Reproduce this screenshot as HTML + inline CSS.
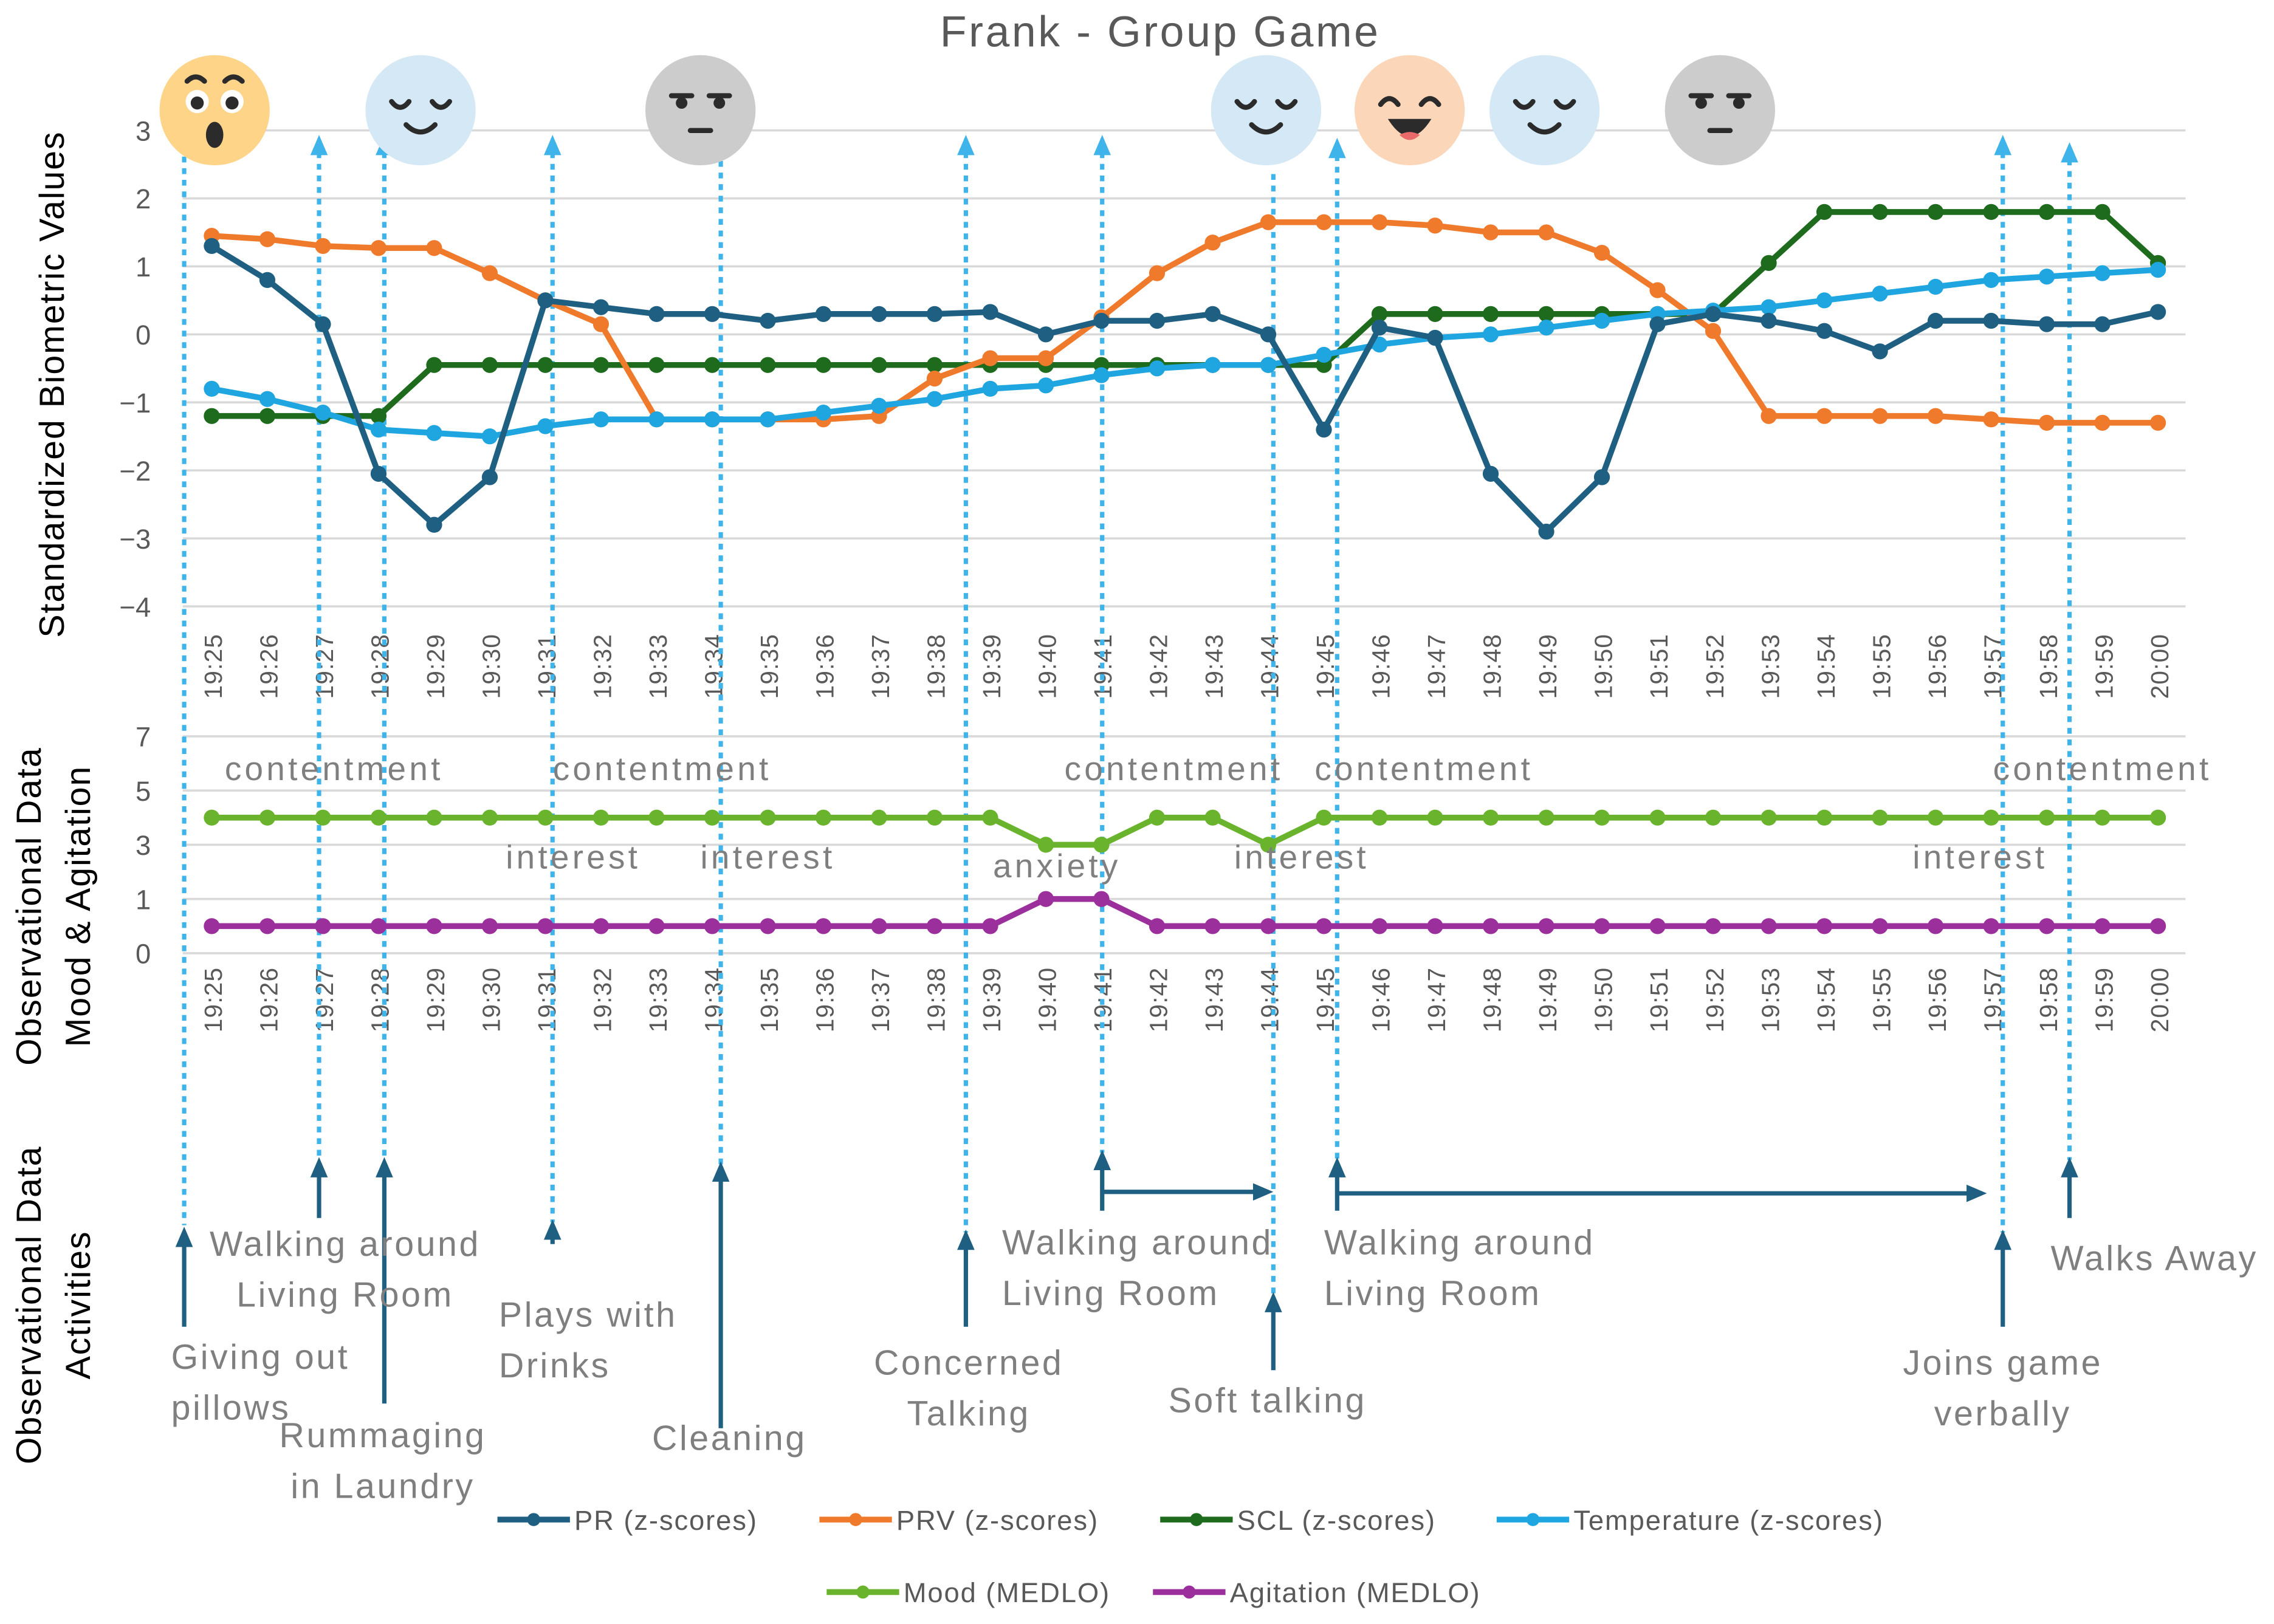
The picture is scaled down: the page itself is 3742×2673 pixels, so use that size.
<!DOCTYPE html>
<html><head><meta charset="utf-8"><style>
html,body{margin:0;padding:0;background:#fff;}
svg{display:block;font-family:"Liberation Sans",sans-serif;}
</style></head><body>
<svg id="chart" width="3742" height="2673" viewBox="0 0 1568 1120" xmlns="http://www.w3.org/2000/svg">
<rect width="1568" height="1120" fill="#fff"/>
<text x="800" y="32" font-size="30" fill="#595959" text-anchor="middle" letter-spacing="1.5">Frank - Group Game</text>
<text transform="translate(44,265) rotate(-90)" font-size="24" fill="#000" text-anchor="middle" letter-spacing="0.8">Standardized Biometric Values</text>
<g font-size="24" fill="#000" text-anchor="middle" letter-spacing="0.8">
<text transform="translate(28,625) rotate(-90)">Observational Data</text>
<text transform="translate(62,625) rotate(-90)">Mood &amp; Agitation</text>
</g>
<g font-size="24" fill="#000" text-anchor="middle" letter-spacing="0.8">
<text transform="translate(28,900) rotate(-90)">Observational Data</text>
<text transform="translate(62,900) rotate(-90)">Activities</text>
</g>
<g id="grid"></g>
<g id="guides"></g>
<g id="series"></g>
<g id="labels"></g>
<g id="emojis"></g>
<g id="legend"></g>
</svg>
<script>
const NS="http://www.w3.org/2000/svg";
const times=["19:25","19:26","19:27","19:28","19:29","19:30","19:31","19:32","19:33","19:34","19:35","19:36","19:37","19:38","19:39","19:40","19:41","19:42","19:43","19:44","19:45","19:46","19:47","19:48","19:49","19:50","19:51","19:52","19:53","19:54","19:55","19:56","19:57","19:58","19:59","20:00"];
const prValues=[1.3,0.8,0.15,-2.05,-2.8,-2.1,0.5,0.4,0.3,0.3,0.2,0.3,0.3,0.3,0.33,0.0,0.2,0.2,0.3,0.0,-1.4,0.1,-0.05,-2.05,-2.9,-2.1,0.15,0.3,0.2,0.05,-0.25,0.2,0.2,0.15,0.15,0.33];
const prvValues=[1.45,1.4,1.3,1.27,1.27,0.9,0.5,0.15,-1.25,-1.25,-1.25,-1.25,-1.2,-0.65,-0.35,-0.35,0.25,0.9,1.35,1.65,1.65,1.65,1.6,1.5,1.5,1.2,0.65,0.05,-1.2,-1.2,-1.2,-1.2,-1.25,-1.3,-1.3,-1.3];
const sclValues=[-1.2,-1.2,-1.2,-1.2,-0.45,-0.45,-0.45,-0.45,-0.45,-0.45,-0.45,-0.45,-0.45,-0.45,-0.45,-0.45,-0.45,-0.45,-0.45,-0.45,-0.45,0.3,0.3,0.3,0.3,0.3,0.3,0.3,1.05,1.8,1.8,1.8,1.8,1.8,1.8,1.05];
const tempValues=[-0.8,-0.95,-1.15,-1.4,-1.45,-1.5,-1.35,-1.25,-1.25,-1.25,-1.25,-1.15,-1.05,-0.95,-0.8,-0.75,-0.6,-0.5,-0.45,-0.45,-0.3,-0.15,-0.05,0.0,0.1,0.2,0.3,0.35,0.4,0.5,0.6,0.7,0.8,0.85,0.9,0.95];
const moodValues=[4,4,4,4,4,4,4,4,4,4,4,4,4,4,4,3,3,4,4,3,4,4,4,4,4,4,4,4,4,4,4,4,4,4,4,4];
const agitationValues=[0,0,0,0,0,0,0,0,0,0,0,0,0,0,0,1,1,0,0,0,0,0,0,0,0,0,0,0,0,0,0,0,0,0,0,0];
const topTicks=[3,2,1,0,-1,-2,-3,-4];
const midTicks=[7,5,3,1,-1];
const midTickLabels=["7","5","3","1","0"];
const moodLabels=[["contentment",2.2],["contentment",8.1],["interest",6.5],["interest",10],["anxiety",15.2],["contentment",17.3],["contentment",21.8],["interest",19.6],["interest",31.8],["contentment",34.0]];

const X0=146,XN=1488;
const xs=i=>X0+i*(XN-X0)/(times.length-1);
const yTop=v=>230.6-v*46.9;
const yMid=v=>620-(v-1)*18.7;
function mk(tag,attrs,parent,text){const e=document.createElementNS(NS,tag);for(const k in attrs)e.setAttribute(k,attrs[k]);if(text!==undefined)e.textContent=text;parent.appendChild(e);return e;}
const grid=document.getElementById('grid');
topTicks.forEach(t=>{
 const l=mk('line',{x1:126,x2:1507,y1:yTop(t),y2:yTop(t),stroke:'#d9d9d9','stroke-width':1.5},grid);
 
 
 const tx=mk('text',{x:104,y:yTop(t)+7,'font-size':19,fill:'#595959','text-anchor':'end'},grid,t<0?'\u2212'+(-t):String(t));
 
 
});
midTicks.forEach((t,i)=>{
 const l=mk('line',{x1:126,x2:1507,y1:yMid(t),y2:yMid(t),stroke:'#d9d9d9','stroke-width':1.5},grid);
 
 
 const tx=mk('text',{x:104,y:yMid(t)+7,'font-size':19,fill:'#595959','text-anchor':'end'},grid,midTickLabels[i]);
 
 
});
times.forEach((t,i)=>{
 [420,650].forEach(y0=>{
  const tx=mk('text',{transform:`translate(${xs(i)+7},${y0+62}) rotate(-90)`,'font-size':17,fill:'#595959','text-anchor':'start','letter-spacing':0.5},grid,t);
  
  
 });
});
// guides
const guides=document.getElementById('guides');
const LB='#3fb4ea',DB='#1f5f82';
const dotted=[[127,100,845,false],[220,95,800,true],[265,95,800,true],[381,95,843,true],[497,95,803,false],[666,95,850,true],[760,95,795,true],[878,120,893,false],[922,97,800,true],[1381,95,850,true],[1427,100,800,true]];
dotted.forEach(d=>{
 const l=mk('line',{x1:d[0],x2:d[0],y1:d[1]+(d[3]?10:0),y2:d[2],stroke:LB,'stroke-width':3,'stroke-dasharray':'4 4'},guides);
 
 
 if(d[3]){const p=mk('polygon',{points:`${d[0]-6},${d[1]+12} ${d[0]+6},${d[1]+12} ${d[0]},${d[1]-2}`,fill:LB},guides);
 
 }
});
const solid=[[127,915,848],[220,840,800],[265,968,800],[381,858,843],[497,985,803],[666,915,850],[760,835,795],[878,945,893],[922,835,800],[1381,915,850],[1427,840,800]];
solid.forEach(d=>{
 const l=mk('line',{x1:d[0],x2:d[0],y1:d[1],y2:d[2]+10,stroke:DB,'stroke-width':3},guides);
 
 
 const p=mk('polygon',{points:`${d[0]-6},${d[2]+12} ${d[0]+6},${d[2]+12} ${d[0]},${d[2]-2}`,fill:DB},guides);
 
 
});
[[760,822,876],[922,823,1368]].forEach(d=>{
 const l=mk('line',{x1:d[0],x2:d[2]-10,y1:d[1],y2:d[1],stroke:DB,'stroke-width':3},guides);
 
 
 const p=mk('polygon',{points:`${d[2]-12},${d[1]-6} ${d[2]-12},${d[1]+6} ${d[2]+2},${d[1]}`,fill:DB},guides);
 
 
});
// series
const series=document.getElementById('series');
function drawSeries(vals,yf,color,name){
 const g=mk('g',{},series);
 
 
 const pl=mk('polyline',{points:vals.map((v,i)=>xs(i)+','+yf(v)).join(' '),fill:'none',stroke:color,'stroke-width':4,'stroke-linejoin':'round'},g);
 
 
 vals.forEach((v,i)=>{const c=mk('circle',{cx:xs(i),cy:yf(v),r:5.5,fill:color},g);
 
 });
}
drawSeries(sclValues,yTop,'#1e6b1e','scl-series');
drawSeries(prvValues,yTop,'#f07a2c','prv-series');
drawSeries(tempValues,yTop,'#1fa6e0','temperature-series');
drawSeries(prValues,yTop,'#1f5f82','pr-series');
drawSeries(moodValues,yMid,'#6ab42d','mood-series');
drawSeries(agitationValues,yMid,'#9b2f9b','agitation-series');
// labels
const labels=document.getElementById('labels');
moodLabels.forEach(m=>{
 const y=m[0]==='contentment'?538:(m[0]==='anxiety'?605:599);
 const t=mk('text',{x:X0+m[1]*(XN-X0)/(times.length-1),y:y,'font-size':23,fill:'#7f7f7f','text-anchor':'middle','letter-spacing':2.2},labels,m[0]);
 
 
});
const acts=[[["Giving out","pillows"],118,944,'start'],[["Walking around","Living Room"],238,866,'middle'],[["Rummaging","in Laundry"],264,998,'middle'],[["Plays with","Drinks"],344,915,'start'],[["Cleaning"],503,1000,'middle'],[["Concerned","Talking"],668,948,'middle'],[["Walking around","Living Room"],691,865,'start'],[["Soft talking"],874,974,'middle'],[["Walking around","Living Room"],913,865,'start'],[["Joins game","verbally"],1381,948,'middle'],[["Walks Away"],1414,876,'start']];
acts.forEach(a=>{
 const t=mk('text',{x:a[1],y:a[2],'font-size':24,fill:'#7f7f7f','text-anchor':a[3],'letter-spacing':1.5},labels);
 
 
 a[0].forEach((s,k)=>mk('tspan',{x:a[1],dy:k?35:0},t,s));
});
// emojis
const em=document.getElementById('emojis');
const emo=[[148,'#fdd488','surprised'],[290,'#d4e8f5','relieved'],[483,'#cccccc','unamused'],[873,'#d4e8f5','relieved'],[972,'#fcd6b8','smiling'],[1065,'#d4e8f5','relieved'],[1186,'#cccccc','unamused']];
emo.forEach(e=>{
 const g=mk('g',{transform:`translate(${e[0]},76)`},em);
 
 
 mk('ellipse',{cx:0,cy:0,rx:38,ry:38,fill:e[1]},g);
 const st={fill:'none',stroke:'#2b2b2b','stroke-width':3.5,'stroke-linecap':'round'};
 if(e[2]==='surprised'){
  mk('circle',{cx:-12,cy:-6,r:8,fill:'#fff'},g);mk('circle',{cx:12,cy:-6,r:8,fill:'#fff'},g);
  mk('circle',{cx:-12,cy:-5,r:4.5,fill:'#2b2b2b'},g);mk('circle',{cx:12,cy:-5,r:4.5,fill:'#2b2b2b'},g);
  mk('path',Object.assign({d:'M-19,-20 Q-13,-26 -7,-20'},st),g);mk('path',Object.assign({d:'M7,-20 Q13,-26 19,-20'},st),g);
  mk('ellipse',{cx:0,cy:17,rx:6,ry:9,fill:'#2b2b2b'},g);
 }else if(e[2]==='relieved'){
  mk('path',Object.assign({d:'M-20,-6 Q-14,2 -8,-6'},st),g);mk('path',Object.assign({d:'M8,-6 Q14,2 20,-6'},st),g);
  mk('path',Object.assign({d:'M-10,10 Q0,20 10,10'},st),g);
 }else if(e[2]==='unamused'){
  mk('path',Object.assign({d:'M-20,-10 L-6,-10 M6,-10 L20,-10'},st),g);
  mk('circle',{cx:-13,cy:-5,r:4,fill:'#2b2b2b'},g);mk('circle',{cx:13,cy:-5,r:4,fill:'#2b2b2b'},g);
  mk('path',Object.assign({d:'M-7,14 L7,14'},st),g);
 }else{
  mk('path',Object.assign({d:'M-20,-4 Q-14,-12 -8,-4'},st),g);mk('path',Object.assign({d:'M8,-4 Q14,-12 20,-4'},st),g);
  mk('path',{d:'M-15,6 Q0,30 15,6 Z',fill:'#2b2b2b'},g);
  mk('path',{d:'M-7,17 Q0,24 7,17 Q0,13 -7,17 Z',fill:'#e86a6a'},g);
 }
});
// legend
const lg=document.getElementById('legend');
const leg=[['PR (z-scores)','#1f5f82',343,1048],['PRV (z-scores)','#f07a2c',565,1048],['SCL (z-scores)','#1e6b1e',800,1048],['Temperature (z-scores)','#1fa6e0',1032,1048],['Mood (MEDLO)','#6ab42d',570,1098],['Agitation (MEDLO)','#9b2f9b',795,1098]];
leg.forEach(l=>{
 const g=mk('g',{},lg);
 
 
 mk('line',{x1:l[2],x2:l[2]+50,y1:l[3],y2:l[3],stroke:l[1],'stroke-width':4},g);
 mk('circle',{cx:l[2]+25,cy:l[3],r:4.5,fill:l[1]},g);
 mk('text',{x:l[2]+53,y:l[3]+7,'font-size':19,fill:'#595959','letter-spacing':0.8},g,l[0]);
});
</script>
</body></html>
